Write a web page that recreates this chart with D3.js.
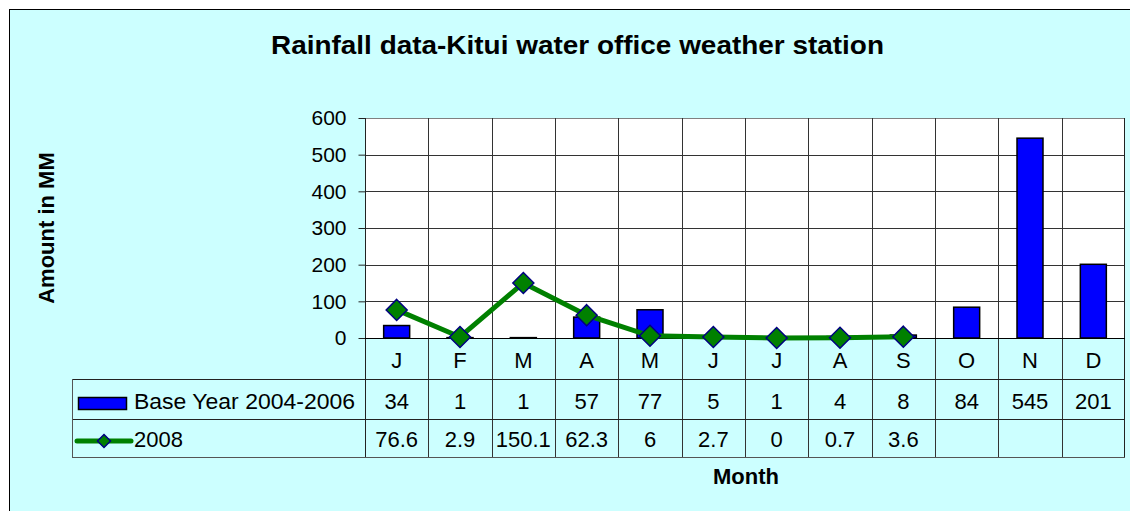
<!DOCTYPE html>
<html lang="en">
<head>
    <meta charset="UTF-8">
    <title>Rainfall data-Kitui water office weather station</title>
    <style>
        body { margin: 0; background: #fff; }
        text { font-family: "Liberation Sans", Arial, sans-serif; fill: #000; }
    </style>
</head>
<body>
<script src="https://d3js.org/d3.v7.min.js"></script>
<script>
    // chart data
    const months = ['J', 'F', 'M', 'A', 'M', 'J', 'J', 'A', 'S', 'O', 'N', 'D'];
    const baseYear = [34, 1, 1, 57, 77, 5, 1, 4, 8, 84, 545, 201];
    const year2008 = [76.6, 2.9, 150.1, 62.3, 6, 2.7, 0, 0.7, 3.6, null, null, null];
    const yTicks = [0, 100, 200, 300, 400, 500, 600];
    const seriesNames = ['Base Year 2004-2006', '2008'];

    const W = 1130, H = 511;
    const plot = {left: 365, right: 1125, top: 118, bottom: 338};
    const tableLeft = 72;
    const rowTops = [338, 379, 419, 457];

    const svg = d3.select('body').append('svg')
        .attr('width', W)
        .attr('height', H);

    // chart area
    svg.append('rect')
        .attr('x', 9.5).attr('y', 9.5)
        .attr('width', W + 20).attr('height', H + 20)
        .attr('fill', '#ccffff')
        .attr('stroke', '#000');

    const idx = d3.range(months.length);
    const x = d3.scaleBand()
        .domain(idx)
        .range([plot.left, plot.right]);

    const y = d3.scaleLinear()
        .domain([0, 600])
        .range([plot.bottom, plot.top]);

    // plot background
    svg.append('rect')
        .attr('x', plot.left).attr('y', plot.top)
        .attr('width', plot.right - plot.left)
        .attr('height', plot.bottom - plot.top)
        .attr('fill', '#fff');

    // horizontal gridlines
    svg.append('g').selectAll('line')
        .data(yTicks.filter(d => d > 0))
        .enter().append('line')
        .attr('x1', plot.left).attr('x2', plot.right)
        .attr('y1', d => Math.round(y(d)) + 0.5)
        .attr('y2', d => Math.round(y(d)) + 0.5)
        .attr('stroke', d => d === 600 ? '#808080' : '#333')
        .attr('stroke-width', 1);

    // vertical lines through plot and data table
    svg.append('g').selectAll('line')
        .data(idx.slice(1))
        .enter().append('line')
        .attr('x1', d => Math.round(x(d)) + 0.5)
        .attr('x2', d => Math.round(x(d)) + 0.5)
        .attr('y1', plot.top).attr('y2', rowTops[3])
        .attr('stroke', '#333');

    svg.append('line')
        .attr('x1', plot.right - 0.5).attr('x2', plot.right - 0.5)
        .attr('y1', plot.top).attr('y2', rowTops[3])
        .attr('stroke', '#222');

    // y axis
    const yAxis = svg.append('g')
        .attr('transform', `translate(${plot.left + 0.5},0)`)
        .call(d3.axisLeft(y).tickValues(yTicks).tickSize(7).tickPadding(12));
    yAxis.select('.domain').attr('stroke', '#222').attr('d', `M0,${plot.top}V${rowTops[3]}`);
    yAxis.selectAll('.tick line').attr('stroke', '#222');
    yAxis.selectAll('.tick text')
        .style('font-family', '"Liberation Sans", Arial, sans-serif')
        .style('font-size', '21px')
        .attr('fill', '#000');

    // table horizontal lines
    svg.append('line')
        .attr('x1', plot.left).attr('x2', plot.right)
        .attr('y1', plot.bottom + 0.5).attr('y2', plot.bottom + 0.5)
        .attr('stroke', '#000');
    svg.append('g').selectAll('line')
        .data(rowTops.slice(1))
        .enter().append('line')
        .attr('x1', tableLeft).attr('x2', plot.right)
        .attr('y1', d => d + 0.5).attr('y2', d => d + 0.5)
        .attr('stroke', (d, i) => i === 2 ? '#555' : '#222');
    svg.append('line')
        .attr('x1', tableLeft + 0.5).attr('x2', tableLeft + 0.5)
        .attr('y1', rowTops[1]).attr('y2', rowTops[3])
        .attr('stroke', '#555');

    // bars
    const barW = 26;
    svg.append('g').selectAll('rect')
        .data(idx)
        .enter().append('rect')
        .attr('x', i => x(i) + x.bandwidth() / 2 - barW / 2)
        .attr('y', i => y(baseYear[i]))
        .attr('width', barW)
        .attr('height', i => y(0) - y(baseYear[i]))
        .attr('fill', '#0000ff')
        .attr('stroke', '#000')
        .attr('stroke-width', 1.5);

    // 2008 line
    const cx = i => x(i) + x.bandwidth() / 2;
    const pts = idx.filter(i => year2008[i] !== null);
    svg.append('path')
        .datum(pts)
        .attr('d', d3.line().x(cx).y(i => y(year2008[i])))
        .attr('fill', 'none')
        .attr('stroke', '#008000')
        .attr('stroke-width', 5);

    const diamond = r => `M0,${-r}L${r},0L0,${r}L${-r},0Z`;
    svg.append('g').selectAll('path')
        .data(pts)
        .enter().append('path')
        .attr('transform', i => `translate(${cx(i)},${y(year2008[i])})`)
        .attr('d', diamond(10.5))
        .attr('fill', '#008000')
        .attr('stroke', '#000080')
        .attr('stroke-width', 1.5);

    // category labels
    svg.append('g').selectAll('text')
        .data(idx)
        .enter().append('text')
        .attr('x', cx)
        .attr('y', 368)
        .attr('text-anchor', 'middle')
        .style('font-size', '22px')
        .text(i => months[i]);

    // table values
    const rows = [baseYear, year2008];
    const rowBase = [409, 447];
    rows.forEach((vals, r) => {
        svg.append('g').selectAll('text')
            .data(idx.filter(i => vals[i] !== null))
            .enter().append('text')
            .attr('x', cx)
            .attr('y', rowBase[r])
            .attr('text-anchor', 'middle')
            .style('font-size', '22px')
            .text(i => vals[i]);
    });

    // legend keys inside table
    svg.append('rect')
        .attr('x', 78.5).attr('y', 397.5)
        .attr('width', 48).attr('height', 12)
        .attr('fill', '#0000ff')
        .attr('stroke', '#000')
        .attr('stroke-width', 1.5);
    svg.append('line')
        .attr('x1', 77).attr('x2', 131)
        .attr('y1', 441).attr('y2', 441)
        .attr('stroke', '#008000')
        .attr('stroke-width', 5)
        .attr('stroke-linecap', 'round');
    svg.append('path')
        .attr('transform', 'translate(104,441)')
        .attr('d', diamond(6.5))
        .attr('fill', '#008000')
        .attr('stroke', '#000080')
        .attr('stroke-width', 1.5);
    svg.append('g').selectAll('text')
        .data(seriesNames)
        .enter().append('text')
        .attr('x', 134)
        .attr('y', (d, i) => rowBase[i])
        .style('font-size', '22px')
        .attr('textLength', (d, i) => i === 0 ? 221 : null)
        .attr('lengthAdjust', 'spacingAndGlyphs')
        .text(d => d);

    // titles
    svg.append('text')
        .attr('x', 577.5).attr('y', 54)
        .attr('text-anchor', 'middle')
        .style('font-size', '25px')
        .style('font-weight', 'bold')
        .attr('textLength', 613)
        .attr('lengthAdjust', 'spacingAndGlyphs')
        .text('Rainfall data-Kitui water office weather station');

    svg.append('text')
        .attr('x', 746).attr('y', 484)
        .attr('text-anchor', 'middle')
        .style('font-size', '22px')
        .style('font-weight', 'bold')
        .text('Month');

    svg.append('text')
        .attr('transform', 'translate(54,228) rotate(-90)')
        .attr('text-anchor', 'middle')
        .style('font-size', '22px')
        .style('font-weight', 'bold')
        .text('Amount in MM');
</script>
</body>
</html>
